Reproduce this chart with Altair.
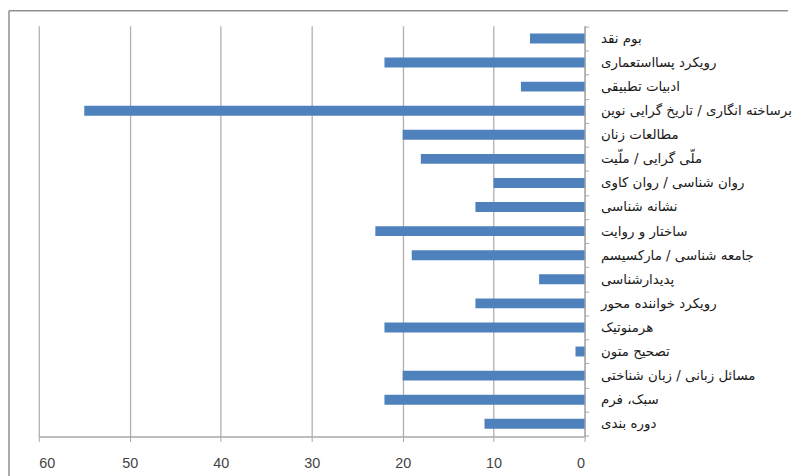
import altair as alt
import pandas as pd

categories = [
    "بوم نقد",
    "رویکرد پسااستعماری",
    "ادبیات تطبیقی",
    "برساخته انگاری / تاریخ گرایی نوین",
    "مطالعات زنان",
    "ملّی گرایی / ملّیت",
    "روان شناسی / روان کاوی",
    "نشانه شناسی",
    "ساختار و روایت",
    "جامعه شناسی / مارکسیسم",
    "پدیدارشناسی",
    "رویکرد خواننده محور",
    "هرمنوتیک",
    "تصحیح متون",
    "مسائل زبانی / زبان شناختی",
    "سبک، فرم",
    "دوره بندی",
]
counts = [6, 22, 7, 55, 20, 18, 10, 12, 23, 19, 5, 12, 22, 1, 20, 22, 11]
x_ticks = [0, 10, 20, 30, 40, 50, 60]

df = pd.DataFrame({"category": categories, "count": counts})

W, H = 550, 414

bars = alt.Chart(df).mark_bar(color="#4F81BD", size=10).encode(
    x=alt.X(
        "count:Q",
        scale=alt.Scale(domain=[0, 60], reverse=True, nice=False),
        axis=alt.Axis(
            values=x_ticks,
            title=None,
            grid=True,
            gridColor="#b0b0b0",
            gridWidth=1.3,
            domainColor="#a8a8a8",
            domainWidth=1.3,
            tickColor="#a8a8a8",
            tickSize=5,
            labelPadding=15,
            labelFont="Liberation Sans",
            labelFontSize=14.5,
            labelColor="#444444",
        ),
    ),
    y=alt.Y(
        "category:N",
        sort=categories,
        scale=alt.Scale(paddingInner=0, paddingOuter=0.03),
        axis=alt.Axis(
            orient="right",
            title=None,
            tickBand="extent",
            tickSize=4,
            tickColor="#a8a8a8",
            domainColor="#a8a8a8",
            domainWidth=1.3,
            labelAlign="left",
            labelPadding=12,
            labelFont="DejaVu Sans",
            labelFontSize=13.5,
            labelColor="#1a1a1a",
            labelLimit=400,
            grid=False,
        ),
    ),
)

one = pd.DataFrame({"a": [0]})
frame_top = alt.Chart(one).mark_rule(color="#8f8f8f", strokeWidth=1.5).encode(
    x=alt.value(-30), x2=alt.value(W + 205), y=alt.value(-15)
)
frame_left = alt.Chart(one).mark_rule(color="#8f8f8f", strokeWidth=1.5).encode(
    x=alt.value(-30), y=alt.value(-15), y2=alt.value(H + 40)
)

chart = (
    alt.layer(frame_top, frame_left, bars)
    .properties(
        width=W,
        height=H,
        padding={"left": 0, "top": 0, "right": 0, "bottom": 0},
        background="white",
    )
    .configure_view(stroke=None)
)

chart.save("out.html", embed_options={"renderer": "svg", "actions": False})
